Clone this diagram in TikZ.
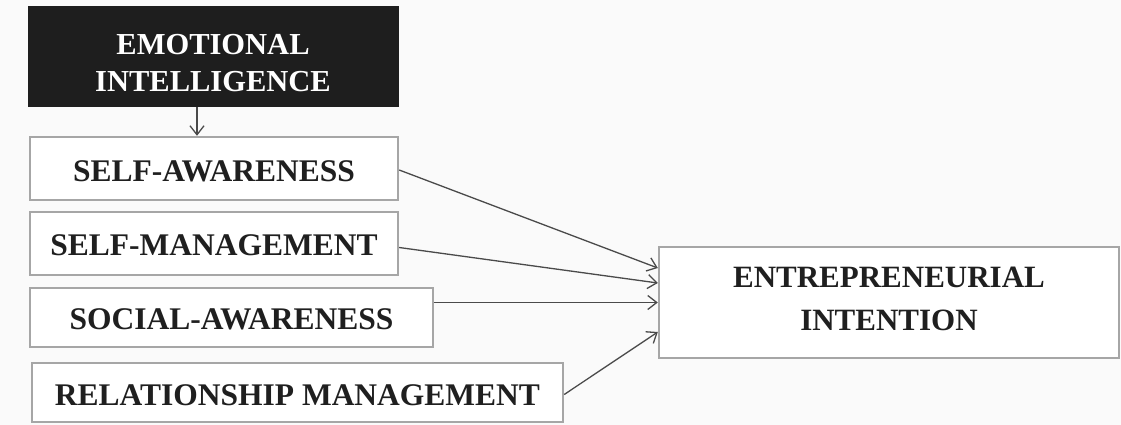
\documentclass[tikz,border=0pt]{standalone}
\usepackage{fontspec}
\setmainfont{Liberation Serif}
\usetikzlibrary{arrows.meta,calc}
\definecolor{boxline}{HTML}{A6A6A6}
\definecolor{arrowc}{HTML}{4A4A4A}
\definecolor{darkfill}{HTML}{1E1E1E}
\definecolor{textc}{HTML}{1F1F1F}
\newcommand{\twolines}[3]{\raisebox{#1}[0pt][0pt]{\begin{tabular}[t]{@{}c@{}}#2\\#3\end{tabular}}}
\newcommand{\oneline}[2]{\raisebox{#1}[0pt][0pt]{#2}}
\begin{document}
\begin{tikzpicture}[x=1pt,y=-1pt,
  lbox/.style={draw=boxline,line width=2.4pt,fill=white,rectangle,inner sep=0pt,
    font=\fontsize{31.5}{36}\selectfont\bfseries,text=textc},
  darkbox/.style={draw=darkfill,line width=1pt,fill=darkfill,rectangle,inner sep=0pt,
    font=\fontsize{30.5}{37}\selectfont\bfseries,text=white},
  bigbox/.style={draw=boxline,line width=2.4pt,fill=white,rectangle,inner sep=0pt,
    font=\fontsize{31}{43}\selectfont\bfseries,text=textc},
  conn/.style={draw=arrowc,line width=1.3pt,-{Straight Barb[length=9pt,width=14pt,line width=1.3pt]}}]
\fill[white!98!black] (0,0) rectangle (1121,425);
\useasboundingbox (0,0) rectangle (1121,425);
\node[darkbox,minimum width=370pt,minimum height=100pt] (ei) at (213,57) {\twolines{2pt}{EMOTIONAL}{INTELLIGENCE}};
\node[lbox,minimum width=368pt,minimum height=63pt] (sa) at (214,168.5) {\oneline{-12.9pt}{SELF-AWARENESS}};
\node[lbox,minimum width=368pt,minimum height=63pt] (sm) at (214,243.5) {\oneline{-11.9pt}{SELF-MANAGEMENT}};
\node[lbox,minimum width=403pt,minimum height=59pt] (soa) at (231.5,317.5) {\oneline{-11.9pt}{SOCIAL-AWARENESS}};
\node[lbox,minimum width=531pt,minimum height=59pt] (rm) at (297.5,392.5) {\oneline{-12.9pt}{RELATIONSHIP MANAGEMENT}};
\node[bigbox,minimum width=460pt,minimum height=111pt] (en) at (889,302.5) {\twolines{15.5pt}{ENTREPRENEURIAL}{INTENTION}};
\draw[conn] ($(ei.south)+(-16,0)$) -- ($(sa.north)+(-17,0)$);
\draw[conn] ($(sa.east)+(0,1.5)$) -- ($(en.west)+(0,-34.5)$);
\draw[conn] ($(sm.east)+(0,4)$) -- ($(en.west)+(0,-19.5)$);
\draw[conn] (soa.east |- en.west) -- (en.west);
\draw[conn] ($(rm.east)+(0,2)$) -- ($(en.west)+(0,29.5)$);
\end{tikzpicture}
\end{document}
